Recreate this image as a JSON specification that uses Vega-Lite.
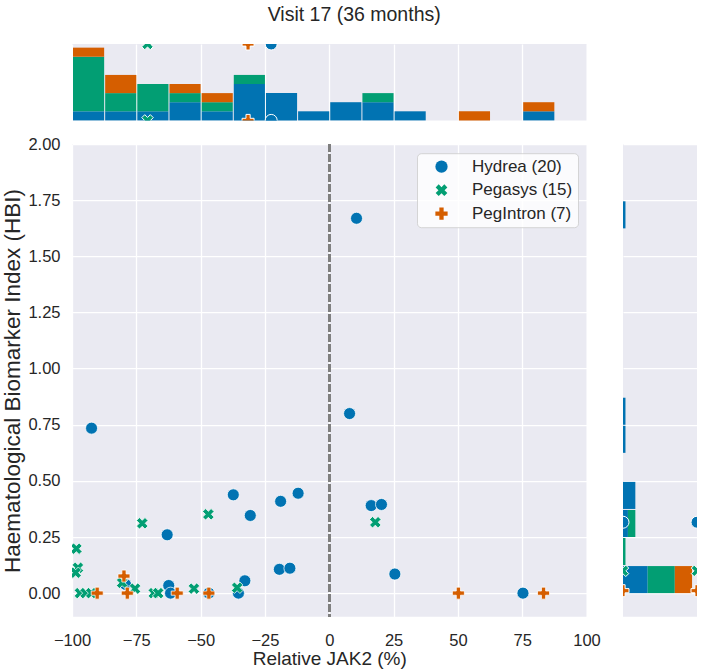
{
  "$schema": "https://vega.github.io/schema/vega-lite/v6.json",
  "autosize": {"type": "pad"},
  "padding": {"left": 1, "top": 4, "right": 5, "bottom": 3},
  "background": "white",
  "title": {"text": "Visit 17 (36 months)", "fontSize": 19.5, "fontWeight": "normal", "color": "#262626", "font": "Liberation Sans", "anchor": "middle", "offset": 19, "dx": 5},
  "datasets": {
    "points": [
      {"treatment": "Hydrea (20)", "jak2": 10.6, "hbi": 1.67},
      {"treatment": "Hydrea (20)", "jak2": -92.4, "hbi": 0.735},
      {"treatment": "Hydrea (20)", "jak2": 7.9, "hbi": 0.80},
      {"treatment": "Hydrea (20)", "jak2": -37.3, "hbi": 0.438},
      {"treatment": "Hydrea (20)", "jak2": -30.7, "hbi": 0.346},
      {"treatment": "Hydrea (20)", "jak2": -18.9, "hbi": 0.409},
      {"treatment": "Hydrea (20)", "jak2": -12.1, "hbi": 0.445},
      {"treatment": "Hydrea (20)", "jak2": -63.0, "hbi": 0.26},
      {"treatment": "Hydrea (20)", "jak2": -19.4, "hbi": 0.106},
      {"treatment": "Hydrea (20)", "jak2": -15.3, "hbi": 0.111},
      {"treatment": "Hydrea (20)", "jak2": -32.8, "hbi": 0.055},
      {"treatment": "Hydrea (20)", "jak2": -35.3, "hbi": 0.0},
      {"treatment": "Hydrea (20)", "jak2": -62.4, "hbi": 0.034},
      {"treatment": "Hydrea (20)", "jak2": -61.7, "hbi": 0.0},
      {"treatment": "Hydrea (20)", "jak2": -46.8, "hbi": 0.0},
      {"treatment": "Hydrea (20)", "jak2": 16.3, "hbi": 0.39},
      {"treatment": "Hydrea (20)", "jak2": 20.3, "hbi": 0.395},
      {"treatment": "Hydrea (20)", "jak2": 25.5, "hbi": 0.085},
      {"treatment": "Hydrea (20)", "jak2": 75.3, "hbi": 0.0},
      {"treatment": "Hydrea (20)", "jak2": -79.2, "hbi": 0.039},
      {"treatment": "Pegasys (15)", "jak2": -72.7, "hbi": 0.311},
      {"treatment": "Pegasys (15)", "jak2": -47.0, "hbi": 0.351},
      {"treatment": "Pegasys (15)", "jak2": -98.3, "hbi": 0.198},
      {"treatment": "Pegasys (15)", "jak2": -97.7, "hbi": 0.113},
      {"treatment": "Pegasys (15)", "jak2": -98.6, "hbi": 0.091},
      {"treatment": "Pegasys (15)", "jak2": -96.9, "hbi": 0.0},
      {"treatment": "Pegasys (15)", "jak2": -94.7, "hbi": 0.0},
      {"treatment": "Pegasys (15)", "jak2": -92.5, "hbi": 0.0},
      {"treatment": "Pegasys (15)", "jak2": -80.5, "hbi": 0.046},
      {"treatment": "Pegasys (15)", "jak2": -75.5, "hbi": 0.02},
      {"treatment": "Pegasys (15)", "jak2": -68.2, "hbi": 0.0},
      {"treatment": "Pegasys (15)", "jak2": -66.5, "hbi": 0.0},
      {"treatment": "Pegasys (15)", "jak2": -52.6, "hbi": 0.02},
      {"treatment": "Pegasys (15)", "jak2": -35.8, "hbi": 0.024},
      {"treatment": "Pegasys (15)", "jak2": 17.9, "hbi": 0.316},
      {"treatment": "PegIntron (7)", "jak2": -90.2, "hbi": 0.0},
      {"treatment": "PegIntron (7)", "jak2": -79.8, "hbi": 0.076},
      {"treatment": "PegIntron (7)", "jak2": -78.5, "hbi": 0.0},
      {"treatment": "PegIntron (7)", "jak2": -59.1, "hbi": 0.0},
      {"treatment": "PegIntron (7)", "jak2": -46.8, "hbi": 0.0},
      {"treatment": "PegIntron (7)", "jak2": 50.2, "hbi": 0.0},
      {"treatment": "PegIntron (7)", "jak2": 83.3, "hbi": 0.0}
    ],
    "groups": [
      {"treatment": "Hydrea (20)", "rank": 1},
      {"treatment": "Pegasys (15)", "rank": 2},
      {"treatment": "PegIntron (7)", "rank": 3}
    ]
  },
  "data": {"name": "points"},
  "spacing": 23.2,
  "bounds": "flush",
  "resolve": {"scale": {"color": "independent", "shape": "independent"}, "legend": {"color": "independent", "shape": "independent"}},
  "vconcat": [
    {
      "width": 514.5,
      "height": 76.4,
      "layer": [
        {
          "transform": [
            {"lookup": "treatment", "from": {"data": {"name": "groups"}, "key": "treatment", "fields": ["rank"]}},
            {"bin": {"extent": [-100, 100], "step": 12.5}, "field": "jak2", "as": ["jak2_b0", "jak2_b1"]}
          ],
          "mark": {"type": "bar"},
          "encoding": {
            "x": {"field": "jak2_b0", "type": "quantitative", "bin": "binned", "scale": {"domain": [-100, 100], "nice": false}, "axis": {"values": [-100, -75, -50, -25, 0, 25, 50, 75, 100], "labels": false, "title": null, "grid": true}},
            "x2": {"field": "jak2_b1"},
            "y": {"aggregate": "count", "type": "quantitative", "scale": {"domain": [0, 8.4], "nice": false}, "axis": null},
            "color": {"field": "treatment", "type": "nominal", "scale": {"domain": ["Hydrea (20)", "Pegasys (15)", "PegIntron (7)"], "range": ["#0173B2", "#029E73", "#D55E00"]}, "legend": null},
            "order": {"field": "rank", "type": "quantitative"}
          }
        },
        {
          "transform": [{"aggregate": [{"op": "mean", "field": "jak2", "as": "mean_jak2"}], "groupby": ["treatment"]}],
          "mark": {"type": "point", "filled": true, "clip": true, "size": 144, "stroke": "white", "strokeWidth": 1, "opacity": 1},
          "encoding": {
            "x": {"field": "mean_jak2", "type": "quantitative"},
            "y": {"datum": 0},
            "color": {"field": "treatment", "type": "nominal", "scale": {"domain": ["Hydrea (20)", "Pegasys (15)", "PegIntron (7)"], "range": ["#0173B2", "#029E73", "#D55E00"]}, "legend": null},
            "shape": {"field": "treatment", "type": "nominal", "scale": {"domain": ["Hydrea (20)", "Pegasys (15)", "PegIntron (7)"], "range": ["circle", "M0.46,-0.955L0.955,-0.46L0.495,0L0.955,0.46L0.46,0.955L0,0.495L-0.46,0.955L-0.955,0.46L-0.495,0L-0.955,-0.46L-0.46,-0.955L0,-0.495Z", "M-0.35,-1L0.35,-1L0.35,-0.35L1,-0.35L1,0.35L0.35,0.35L0.35,1L-0.35,1L-0.35,0.35L-1,0.35L-1,-0.35L-0.35,-0.35Z"]}, "legend": null}
          }
        },
        {
          "transform": [{"aggregate": [{"op": "mean", "field": "jak2", "as": "mean_jak2"}], "groupby": ["treatment"]}],
          "mark": {"type": "point", "filled": true, "clip": true, "size": 144, "stroke": "white", "strokeWidth": 1, "opacity": 1},
          "encoding": {
            "x": {"field": "mean_jak2", "type": "quantitative"},
            "y": {"datum": 8.4},
            "color": {"field": "treatment", "type": "nominal", "scale": {"domain": ["Hydrea (20)", "Pegasys (15)", "PegIntron (7)"], "range": ["#0173B2", "#029E73", "#D55E00"]}, "legend": null},
            "shape": {"field": "treatment", "type": "nominal", "scale": {"domain": ["Hydrea (20)", "Pegasys (15)", "PegIntron (7)"], "range": ["circle", "M0.46,-0.955L0.955,-0.46L0.495,0L0.955,0.46L0.46,0.955L0,0.495L-0.46,0.955L-0.955,0.46L-0.495,0L-0.955,-0.46L-0.46,-0.955L0,-0.495Z", "M-0.35,-1L0.35,-1L0.35,-0.35L1,-0.35L1,0.35L0.35,0.35L0.35,1L-0.35,1L-0.35,0.35L-1,0.35L-1,-0.35L-0.35,-0.35Z"]}, "legend": null}
          }
        }
      ]
    },
    {
      "spacing": 36,
      "bounds": "flush",
      "resolve": {"scale": {"color": "independent", "shape": "independent"}, "legend": {"color": "independent", "shape": "independent"}},
      "hconcat": [
        {
          "width": 514.5,
          "height": 472.5,
          "layer": [
            {
              "mark": {"type": "rule", "color": "#7f7f7f", "strokeWidth": 2.3, "strokeDash": [7.2, 2.8]},
              "encoding": {"x": {"datum": 0}}
            },
            {
              "mark": {"type": "point", "filled": true, "clip": true, "size": 144, "stroke": "white", "strokeWidth": 0.75, "opacity": 1},
              "encoding": {
                "x": {"field": "jak2", "type": "quantitative", "scale": {"domain": [-100, 100], "nice": false}, "axis": {"title": "Relative JAK2 (%)", "values": [-100, -75, -50, -25, 0, 25, 50, 75, 100], "labelFlush": false, "labelPadding": 15.5, "titlePadding": 1, "grid": true}},
                "y": {"field": "hbi", "type": "quantitative", "scale": {"domain": [-0.105, 2], "nice": false}, "axis": {"title": "Haematological Biomarker Index (HBI)", "titleFontSize": 22.5, "values": [0, 0.25, 0.5, 0.75, 1, 1.25, 1.5, 1.75, 2], "format": ".2f", "labelFlush": false, "labelPadding": 12, "titlePadding": 3.5, "grid": true}},
                "color": {"field": "treatment", "type": "nominal", "scale": {"domain": ["Hydrea (20)", "Pegasys (15)", "PegIntron (7)"], "range": ["#0173B2", "#029E73", "#D55E00"]}, "legend": {"title": null, "orient": "top-right", "offset": 9}},
                "shape": {"field": "treatment", "type": "nominal", "scale": {"domain": ["Hydrea (20)", "Pegasys (15)", "PegIntron (7)"], "range": ["circle", "M0.46,-0.955L0.955,-0.46L0.495,0L0.955,0.46L0.46,0.955L0,0.495L-0.46,0.955L-0.955,0.46L-0.495,0L-0.955,-0.46L-0.46,-0.955L0,-0.495Z", "M-0.35,-1L0.35,-1L0.35,-0.35L1,-0.35L1,0.35L0.35,0.35L0.35,1L-0.35,1L-0.35,0.35L-1,0.35L-1,-0.35L-0.35,-0.35Z"]}, "legend": {"title": null, "orient": "top-right", "offset": 9}}
              }
            }
          ]
        },
        {
          "width": 74,
          "height": 472.5,
          "layer": [
            {
              "transform": [
                {"lookup": "treatment", "from": {"data": {"name": "groups"}, "key": "treatment", "fields": ["rank"]}},
                {"bin": {"extent": [0, 2], "step": 0.125}, "field": "hbi", "as": ["hbi_b0", "hbi_b1"]}
              ],
              "mark": {"type": "bar"},
              "encoding": {
                "y": {"field": "hbi_b0", "type": "quantitative", "bin": "binned", "scale": {"domain": [-0.105, 2], "nice": false}, "axis": {"values": [0, 0.25, 0.5, 0.75, 1, 1.25, 1.5, 1.75, 2], "labels": false, "title": null, "grid": true}},
                "y2": {"field": "hbi_b1"},
                "x": {"aggregate": "count", "type": "quantitative", "scale": {"domain": [0, 30], "nice": false}, "axis": null},
                "color": {"field": "treatment", "type": "nominal", "scale": {"domain": ["Hydrea (20)", "Pegasys (15)", "PegIntron (7)"], "range": ["#0173B2", "#029E73", "#D55E00"]}, "legend": null},
                "order": {"field": "rank", "type": "quantitative"}
              }
            },
            {
              "transform": [{"aggregate": [{"op": "mean", "field": "hbi", "as": "mean_hbi"}], "groupby": ["treatment"]}],
              "mark": {"type": "point", "filled": true, "clip": true, "size": 144, "stroke": "white", "strokeWidth": 1, "opacity": 1},
              "encoding": {
                "y": {"field": "mean_hbi", "type": "quantitative"},
                "x": {"datum": 0},
                "color": {"field": "treatment", "type": "nominal", "scale": {"domain": ["Hydrea (20)", "Pegasys (15)", "PegIntron (7)"], "range": ["#0173B2", "#029E73", "#D55E00"]}, "legend": null},
                "shape": {"field": "treatment", "type": "nominal", "scale": {"domain": ["Hydrea (20)", "Pegasys (15)", "PegIntron (7)"], "range": ["circle", "M0.46,-0.955L0.955,-0.46L0.495,0L0.955,0.46L0.46,0.955L0,0.495L-0.46,0.955L-0.955,0.46L-0.495,0L-0.955,-0.46L-0.46,-0.955L0,-0.495Z", "M-0.35,-1L0.35,-1L0.35,-0.35L1,-0.35L1,0.35L0.35,0.35L0.35,1L-0.35,1L-0.35,0.35L-1,0.35L-1,-0.35L-0.35,-0.35Z"]}, "legend": null}
              }
            },
            {
              "transform": [{"aggregate": [{"op": "mean", "field": "hbi", "as": "mean_hbi"}], "groupby": ["treatment"]}],
              "mark": {"type": "point", "filled": true, "clip": true, "size": 144, "stroke": "white", "strokeWidth": 1, "opacity": 1},
              "encoding": {
                "y": {"field": "mean_hbi", "type": "quantitative"},
                "x": {"datum": 30},
                "color": {"field": "treatment", "type": "nominal", "scale": {"domain": ["Hydrea (20)", "Pegasys (15)", "PegIntron (7)"], "range": ["#0173B2", "#029E73", "#D55E00"]}, "legend": null},
                "shape": {"field": "treatment", "type": "nominal", "scale": {"domain": ["Hydrea (20)", "Pegasys (15)", "PegIntron (7)"], "range": ["circle", "M0.46,-0.955L0.955,-0.46L0.495,0L0.955,0.46L0.46,0.955L0,0.495L-0.46,0.955L-0.955,0.46L-0.495,0L-0.955,-0.46L-0.46,-0.955L0,-0.495Z", "M-0.35,-1L0.35,-1L0.35,-0.35L1,-0.35L1,0.35L0.35,0.35L0.35,1L-0.35,1L-0.35,0.35L-1,0.35L-1,-0.35L-0.35,-0.35Z"]}, "legend": null}
              }
            }
          ]
        }
      ]
    }
  ],
  "config": {
    "font": "Liberation Sans",
    "view": {"fill": "#EAEAF2", "stroke": null},
    "axis": {"domain": false, "ticks": false, "tickSize": 0, "gridColor": "#FFFFFF", "gridWidth": 1.3, "gridOpacity": 1, "labelColor": "#262626", "titleColor": "#262626", "labelFont": "Liberation Sans", "titleFont": "Liberation Sans", "labelFontSize": 16.5, "titleFontSize": 19, "titleFontWeight": "normal"},
    "legend": {"fillColor": "rgba(255,255,255,0.8)", "strokeColor": "rgba(204,204,204,0.8)", "cornerRadius": 4, "padding": 5, "labelFontSize": 17, "labelFont": "Liberation Sans", "labelColor": "#262626", "symbolSize": 150, "symbolStrokeWidth": 0, "symbolOffset": 11, "labelOffset": 22, "rowPadding": 5.5}
  }
}
